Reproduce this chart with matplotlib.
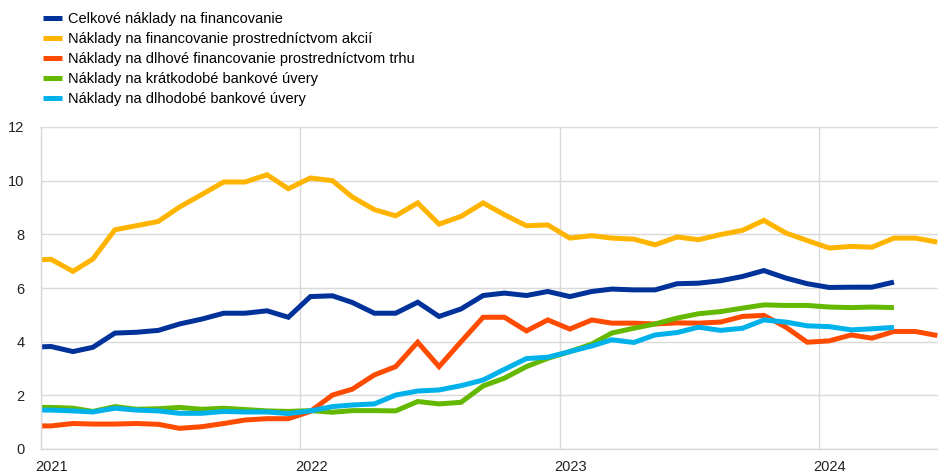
import pandas as pd
import matplotlib
matplotlib.use("Agg")
import matplotlib.pyplot as plt

plt.rcParams['font.family'] = ['Liberation Sans', 'DejaVu Sans']

# monthly observations, Dec 2020 onwards (mid-month dates)
months_long = pd.date_range("2020-12-01", periods=43, freq="MS") + pd.Timedelta(days=14)
months_short = months_long[:41]

labels = [
    "Celkové náklady na financovanie",
    "Náklady na financovanie prostredníctvom akcií",
    "Náklady na dlhové financovanie prostredníctvom trhu",
    "Náklady na krátkodobé bankové úvery",
    "Náklady na dlhodobé bankové úvery",
]
colors = ["#003299", "#FFB400", "#FF4B00", "#65B800", "#00B1EA"]

total_cost = [3.79, 3.82, 3.63, 3.79, 4.32, 4.35, 4.42, 4.66, 4.84, 5.06, 5.06, 5.15, 4.91,
              5.68, 5.71, 5.46, 5.06, 5.06, 5.47, 4.94, 5.22, 5.72, 5.81, 5.72, 5.87,
              5.68, 5.87, 5.96, 5.93, 5.93, 6.16, 6.18, 6.27, 6.43, 6.65, 6.37, 6.16,
              6.02, 6.03, 6.03, 6.22]
equity_cost = [7.03, 7.07, 6.62, 7.08, 8.17, 8.32, 8.48, 9.02, 9.48, 9.95, 9.95, 10.22, 9.70,
               10.1, 10.0, 9.39, 8.92, 8.69, 9.17, 8.38, 8.67, 9.17, 8.73, 8.32, 8.35,
               7.86, 7.95, 7.86, 7.82, 7.61, 7.90, 7.80, 7.99, 8.15, 8.52, 8.05, 7.77,
               7.49, 7.55, 7.52, 7.86, 7.86, 7.71]
market_debt_cost = [0.86, 0.86, 0.95, 0.93, 0.93, 0.95, 0.92, 0.77, 0.83, 0.95, 1.08, 1.13, 1.13,
                    1.40, 2.01, 2.23, 2.76, 3.07, 3.98, 3.07, 4.00, 4.91, 4.91, 4.40, 4.81,
                    4.47, 4.81, 4.69, 4.69, 4.66, 4.70, 4.69, 4.73, 4.94, 4.98, 4.54, 3.98,
                    4.03, 4.25, 4.13, 4.38, 4.38, 4.23]
short_loans_cost = [1.55, 1.55, 1.52, 1.40, 1.58, 1.48, 1.50, 1.55, 1.48, 1.52, 1.47, 1.42, 1.40,
                    1.43, 1.37, 1.43, 1.43, 1.42, 1.77, 1.68, 1.74, 2.35, 2.64, 3.07, 3.38,
                    3.63, 3.91, 4.32, 4.50, 4.66, 4.88, 5.04, 5.12, 5.25, 5.37, 5.35, 5.35,
                    5.29, 5.27, 5.29, 5.27]
long_loans_cost = [1.45, 1.45, 1.42, 1.38, 1.52, 1.45, 1.42, 1.33, 1.33, 1.40, 1.38, 1.38, 1.32,
                   1.42, 1.58, 1.64, 1.68, 2.01, 2.16, 2.20, 2.36, 2.57, 2.97, 3.37, 3.42,
                   3.63, 3.84, 4.07, 3.97, 4.25, 4.34, 4.54, 4.42, 4.50, 4.81, 4.73, 4.59,
                   4.56, 4.44, 4.48, 4.53]

series = [
    (months_short, total_cost),
    (months_long, equity_cost),
    (months_long, market_debt_cost),
    (months_short, short_loans_cost),
    (months_short, long_loans_cost),
]

fig = plt.figure(figsize=(9.38, 4.75), dpi=100)
ax = fig.add_axes([41 / 938, 26 / 475, 897 / 938, 322 / 475])

for (x, y), lab, col in zip(series, labels, colors):
    ax.plot(x, y, color=col, lw=3.6, label=lab, solid_joinstyle="miter", solid_capstyle="butt")

ax.set_ylim(0, 12)
ax.set_yticks(range(0, 13, 2))
ax.set_xlim(pd.Timestamp("2021-01-01"), pd.Timestamp("2024-06-16"))

# gridlines at year starts, labels shifted to mid-January
years = pd.date_range("2021-01-01", periods=4, freq="YS")
ax.set_xticks(years)
ax.set_xticklabels([])
ax.set_xticks(years + pd.Timedelta(days=15), minor=True)
ax.set_xticklabels([str(d.year) for d in years], minor=True)
ax.tick_params(axis="x", which="both", length=0, pad=8, labelsize=10.5, colors="#222222")
ax.tick_params(axis="y", length=0, pad=12, labelsize=10.5, colors="#222222")

ax.grid(True, which="major", color="#d9d9d9", lw=1)
ax.set_axisbelow(True)
for side in ["top", "right"]:
    ax.spines[side].set_visible(False)
for side in ["left", "bottom"]:
    ax.spines[side].set_color("#d9d9d9")
    ax.spines[side].set_linewidth(1)

fig.legend(loc="upper left", bbox_to_anchor=(43 / 938, 1 - 12 / 475), frameon=False,
           fontsize=10.5, handlelength=1.3, handletextpad=0.4, labelspacing=0.42,
           borderpad=0, borderaxespad=0)

fig.savefig("out.png", dpi=100)
